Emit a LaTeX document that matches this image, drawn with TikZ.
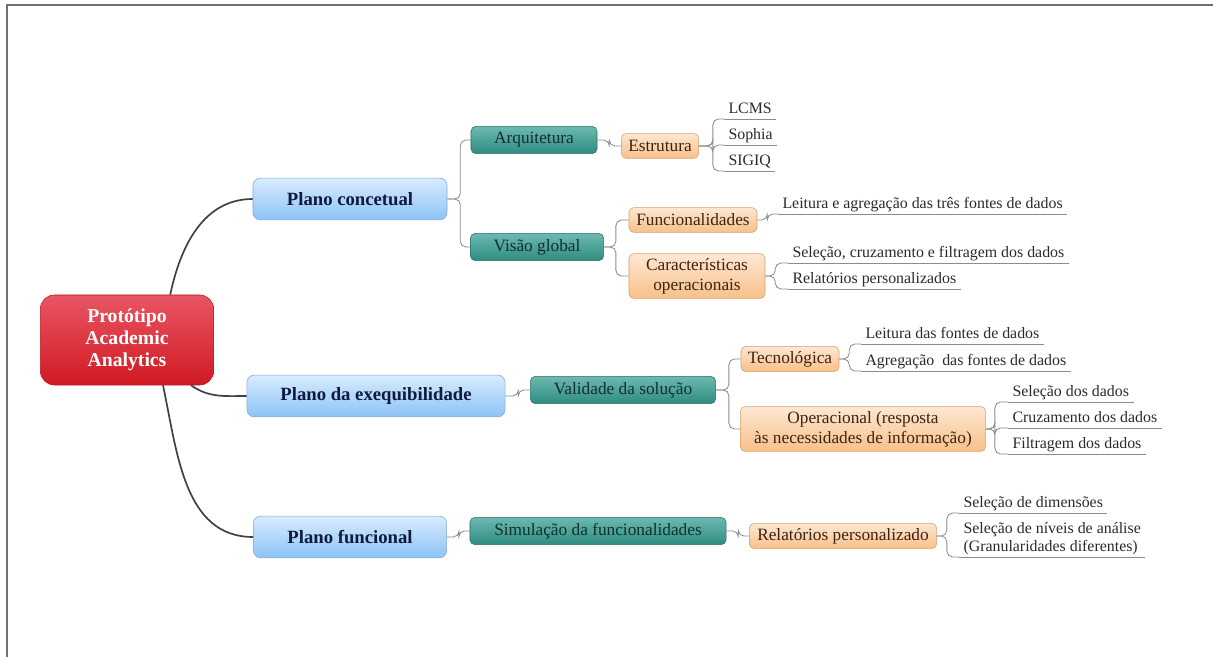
\documentclass[tikz,border=0pt]{standalone}
\usepackage{fontspec}
\setmainfont{Liberation Serif}
\usetikzlibrary{positioning}

\definecolor{azulclaro}{HTML}{D8ECFF}
\definecolor{azulmedio}{HTML}{8CC3F5}
\definecolor{azulborda}{HTML}{7FA9D8}
\definecolor{azultexto}{HTML}{0F1A3C}
\definecolor{verdeclaro}{HTML}{6DB9B0}
\definecolor{verdemedio}{HTML}{2E8C80}
\definecolor{verdeborda}{HTML}{2B6E66}
\definecolor{verdetexto}{HTML}{10302C}
\definecolor{laranjaclaro}{HTML}{FDE7D2}
\definecolor{laranjamedio}{HTML}{F8C08A}
\definecolor{laranjaborda}{HTML}{D9A06B}
\definecolor{castanho}{HTML}{3B2412}
\definecolor{vermelhoclaro}{HTML}{E95563}
\definecolor{vermelhomedio}{HTML}{D01A22}
\definecolor{vermelhoborda}{HTML}{B81820}
\definecolor{cinzatexto}{HTML}{2A2A2A}
\definecolor{cinzalinha}{HTML}{8C8C8C}
\definecolor{troncocor}{HTML}{3C4248}
\definecolor{molduracor}{HTML}{707070}

\tikzset{
  raiz/.style={rounded corners=.35cm,top color=vermelhoclaro,bottom color=vermelhomedio,
    draw=vermelhoborda,text=white,align=center,minimum width=4.33cm,minimum height=2.25cm,
    font=\fontsize{14}{15.5}\selectfont\bfseries},
  plano/.style={rounded corners=.18cm,top color=azulclaro,bottom color=azulmedio,
    draw=azulborda,text=azultexto,minimum height=1.04cm,
    font=\fontsize{13.3}{15}\selectfont\bfseries},
  ramo/.style={rounded corners=.12cm,top color=verdeclaro,bottom color=verdemedio,
    draw=verdeborda,text=verdetexto,minimum height=.68cm,
    font=\fontsize{12.3}{14}\selectfont},
  sub/.style={rounded corners=.12cm,top color=laranjaclaro,bottom color=laranjamedio,
    draw=laranjaborda,text=castanho,minimum height=.62cm,align=center,
    font=\fontsize{12.3}{14}\selectfont},
  folha/.style={anchor=south west,inner xsep=3pt,inner ysep=1.5pt,text depth=.25em,
    text=cinzatexto,align=left,font=\fontsize{11.3}{12.5}\selectfont},
  liga/.style={draw=cinzalinha,line width=.6pt,rounded corners=4pt},
  tronco/.style={draw=troncocor,line width=1.2pt},
  moldura/.style={draw=molduracor,line width=1.4pt}
}

\begin{document}
\begin{tikzpicture}[x=.025cm,y=-.025cm]
  \useasboundingbox (0,0) rectangle (1213,657);
  \draw [moldura] (7,657) -- (7,5) -- (1213,5);

  % centro
  \node [raiz] (raiz) at (127,340) {Protótipo\\Academic\\Analytics};

  % planos
  \node [plano,minimum width=4.85cm] (pconc)  at (350,199) {Plano concetual};
  \node [plano,minimum width=6.45cm] (pexeq)  at (376,396) {Plano da exequibilidade};
  \node [plano,minimum width=4.83cm] (pfunc)  at (350,537) {Plano funcional};

  \node [ramo,minimum width=3.15cm] (arq)    at (534,140) {Arquitetura};
  \node [ramo,minimum width=3.33cm] (visao)  at (537,247) {Visão global};
  \node [ramo,minimum width=4.63cm] (valid)  at (623,390) {Validade da solução};
  \node [ramo,minimum width=6.4cm]  (simul)  at (598,531) {Simulação da funcionalidades};

  \node [sub,minimum width=1.93cm] (estr)   at (660,146) {Estrutura};
  \node [sub,minimum width=3.2cm]  (funcs)  at (693,220) {Funcionalidades};
  \node [sub,minimum width=3.4cm,minimum height=1.1cm] (caract) at (697,276) {Características\\operacionais};
  \node [sub,minimum width=2.45cm] (tecn)   at (790,359) {Tecnológica};
  \node [sub,minimum width=6.13cm,minimum height=1.1cm] (operac) at (863,429) {Operacional (resposta\\às necessidades de informação)};
  \node [sub,minimum width=4.68cm] (relat)  at (843,536) {Relatórios personalizado};

  % folhas
  \node [folha] (lcms)      at (724,119)  {LCMS};
  \node [folha] (sophia)    at (724,145)  {Sophia};
  \node [folha] (sigiq)     at (724,171)  {SIGIQ};
  \node [folha] (leitura)   at (778,214)  {Leitura e agregação das três fontes de dados};
  \node [folha] (selcruz)   at (788,263)  {Seleção, cruzamento e filtragem dos dados};
  \node [folha] (relpers)   at (788,289)  {Relatórios personalizados};
  \node [folha] (leitfont)  at (861,344)  {Leitura das fontes de dados};
  \node [folha] (agregfont) at (861,371)  {Agregação\ \ das fontes de dados};
  \node [folha] (seldados)  at (1008,402) {Seleção dos dados};
  \node [folha] (cruzdados) at (1008,428) {Cruzamento dos dados};
  \node [folha] (filtdados) at (1008,454) {Filtragem dos dados};
  \node [folha] (seldim)    at (959,513)  {Seleção de dimensões};
  \node [folha] (selniv)    at (959,557)  {Seleção de níveis de análise\\(Granularidades diferentes)};

  \foreach \f in {lcms,sophia,sigiq,leitura,selcruz,relpers,leitfont,agregfont,seldados,cruzdados,filtdados,seldim,selniv}
    \draw [liga] (\f.south west) -- (\f.south east);

  % ligacoes
  \draw [tronco] ([xshift=1.08cm]raiz.north) to[out=78,in=180] (pconc.west);
  \draw [tronco] ([xshift=1.6cm]raiz.south) to[out=-35,in=180] (pexeq.west);
  \draw [tronco] ([xshift=.9cm]raiz.south) to[out=-78,in=180] (pfunc.west);

  \draw [liga] (pconc.east) -- ++(13,0) |- (arq.west);
  \draw [liga] (pconc.east) -- ++(13,0) |- (visao.west);
  \draw [liga] (pexeq.east) -- ++(13,0) |- (valid.west);
  \draw [liga] (pfunc.east) -- ++(12,0) |- (simul.west);
  \draw [liga] (arq.east) -- ++(12,0) |- (estr.west);
  \draw [liga] (visao.east) -- ++(12,0) |- (funcs.west);
  \draw [liga] (visao.east) -- ++(12,0) |- (caract.west);
  \draw [liga] (valid.east) -- ++(13,0) |- (tecn.west);
  \draw [liga] (valid.east) -- ++(13,0) |- (operac.west);
  \draw [liga] (simul.east) -- ++(12,0) |- (relat.west);

  \draw [liga] (estr.east) -- ++(14,0) |- (lcms.south west);
  \draw [liga] (estr.east) -- ++(14,0) |- (sophia.south west);
  \draw [liga] (estr.east) -- ++(14,0) |- (sigiq.south west);
  \draw [liga] (funcs.east) -- ++(10,0) |- (leitura.south west);
  \draw [liga] (caract.east) -- ++(10,0) |- (selcruz.south west);
  \draw [liga] (caract.east) -- ++(10,0) |- (relpers.south west);
  \draw [liga] (tecn.east) -- ++(10,0) |- (leitfont.south west);
  \draw [liga] (tecn.east) -- ++(10,0) |- (agregfont.south west);
  \draw [liga] (operac.east) -- ++(9,0) |- (seldados.south west);
  \draw [liga] (operac.east) -- ++(9,0) |- (cruzdados.south west);
  \draw [liga] (operac.east) -- ++(9,0) |- (filtdados.south west);
  \draw [liga] (relat.east) -- ++(10,0) |- (seldim.south west);
  \draw [liga] (relat.east) -- ++(10,0) |- (selniv.south west);
\end{tikzpicture}
\end{document}
